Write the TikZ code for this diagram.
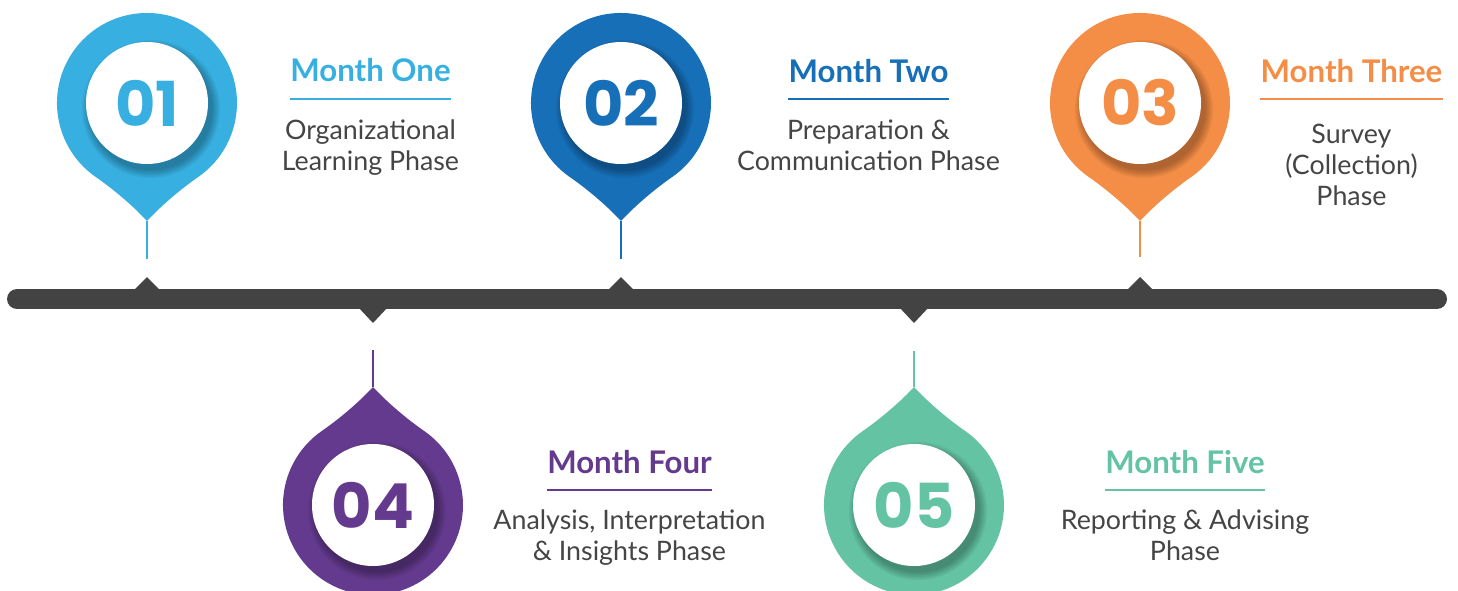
\documentclass[tikz,border=0pt]{standalone}
\usepackage{fontspec}
\setmainfont{Lato}
\newfontfamily\numfont{Poppins}
\usetikzlibrary{calc}

\definecolor{monthA}{RGB}{55,176,225}
\definecolor{monthB}{RGB}{23,111,184}
\definecolor{monthC}{RGB}{244,141,70}
\definecolor{monthD}{RGB}{100,58,142}
\definecolor{monthE}{RGB}{99,195,163}
\definecolor{bargray}{RGB}{67,67,67}
\definecolor{textgray}{RGB}{69,69,69}

\tikzset{>=stealth,
  title/.style={font=\fontsize{15.6}{18}\selectfont\bfseries, inner sep=0pt, anchor=base},
  body/.style={font=\fontsize{13.4}{15.3}\selectfont, text=textgray, align=center, inner sep=0pt, anchor=base},
  number/.style={font=\numfont\bfseries\fontsize{31}{31}\selectfont, inner sep=0pt},
  stem/.style={line width=1pt},
  underline/.style={line width=1.3pt}
}

% map pin: name of tip, centre, colour, 1 = tip down / -1 = tip up, number
\newcommand{\mappin}[5]{%
  \begin{scope}[shift={#2}, yscale=#4]
    \fill[#3] (51.6,73.7) arc[start angle=55, end angle=-235, radius=90]
      .. controls (-31,88) and (-12,105) .. (0,118)
      .. controls (12,105) and (31,88) .. cycle;
    \coordinate (#1) at (0,118);
  \end{scope}
  % soft shadow of the white disc
  \foreach \k in {1,...,6}
    \fill[black, opacity=0.05] ($#2+(4,6)$) circle (60+1.5*\k);
  \fill[white] #2 circle (61);
  \node[number, text=#3] (#1num) at #2 {#5};
}

\begin{document}
\begin{tikzpicture}[x=0.5pt, y=-0.5pt]
  \useasboundingbox (0,0) rectangle (1458,590);

  % Timeline bar
  \coordinate (barL) at (17,299);
  \coordinate (barR) at (1437,299);
  \draw[bargray, line width=10pt, line cap=round] (barL) -- (barR);
  \foreach \x in {147,621,1140}
    \fill[bargray] (\x-14,291) -- (\x,277) -- (\x+14,291) -- cycle;
  \foreach \x in {373,914}
    \fill[bargray] (\x-15,307) -- (\x,323) -- (\x+15,307) -- cycle;

  % Pins
  \mappin{p1}{(147,103)}{monthA}{1}{01}
  \mappin{p2}{(621,103)}{monthB}{1}{02}
  \mappin{p3}{(1140,103)}{monthC}{1}{03}
  \mappin{p4}{(373,505)}{monthD}{-1}{04}
  \mappin{p5}{(914,505)}{monthE}{-1}{05}

  % Stems down to the bar
  \coordinate (s1) at (147,259);
  \coordinate (s2) at (621,259);
  \coordinate (s3) at (1140,257);
  \coordinate (s4) at (373,350);
  \coordinate (s5) at (914,351);
  \draw[stem, monthA] (p1) -- (s1);
  \draw[stem, monthB] (p2) -- (s2);
  \draw[stem, monthC] (p3) -- (s3);
  \draw[stem, monthD] (p4) -- (s4);
  \draw[stem, monthE] (p5) -- (s5);

  % Month titles with underline
  \node[title, text=monthA] (t1) at (370.5,81) {Month One};
  \node[title, text=monthB] (t2) at (868.5,82) {Month Two};
  \node[title, text=monthC] (t3) at (1351.5,82) {Month Three};
  \node[title, text=monthD] (t4) at (629.5,473) {Month Four};
  \node[title, text=monthE] (t5) at (1185,473) {Month Five};
  \draw[underline, monthA] ($(t1.base west)+(0,18)$) -- ($(t1.base east)+(0,18)$);
  \draw[underline, monthB] ($(t2.base west)+(0,17)$) -- ($(t2.base east)+(0,17)$);
  \draw[underline, monthC] ($(t3.base west)+(0,17)$) -- ($(t3.base east)+(0,17)$);
  \draw[underline, monthD] ($(t4.base west)+(0,17)$) -- ($(t4.base east)+(0,17)$);
  \draw[underline, monthE] ($(t5.base west)+(0,17)$) -- ($(t5.base east)+(0,17)$);

  % Phase texts (placed by the baseline of their last line)
  \node[body] (b1) at (370.5,170) {Organizational\\Learning Phase};
  \node[body] (b2) at (868.5,170) {Preparation \&\\Communication Phase};
  \node[body] (b3) at (1351.5,205) {Survey\\(Collection)\\Phase};
  \node[body] (b4) at (629.5,560) {Analysis, Interpretation\\\& Insights Phase};
  \node[body] (b5) at (1185,560) {Reporting \& Advising\\Phase};
\end{tikzpicture}
\end{document}
